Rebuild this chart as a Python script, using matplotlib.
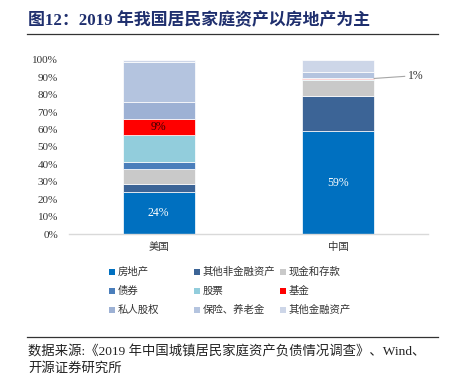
import matplotlib
matplotlib.use("Agg")
import matplotlib.pyplot as plt
from matplotlib.patches import Rectangle
from matplotlib.lines import Line2D
import numpy as np

plt.rcParams['font.family'] = ['Liberation Serif', 'Noto Sans CJK SC', 'DejaVu Sans']

categories = ['美国', '中国']
series_names = ['房地产', '其他非金融资产', '现金和存款', '债券', '股票', '基金',
                '私人股权', '保险、养老金', '其他金融资产']
colors = ['#0070C0', '#3C6496', '#C9C9C9', '#4A7EBB', '#92CDDC', '#FF0000',
          '#9DB1D4', '#B4C4DF', '#CDD6E8']
us_values = [24.0, 4.8, 8.6, 4.2, 15.3, 9.0, 10.2, 22.9, 1.0]
cn_values = [59.0, 20.5, 8.8, 0.0, 0.7, 0.8, 0.0, 3.1, 7.1]
yticks = [0, 10, 20, 30, 40, 50, 60, 70, 80, 90, 100]

W, H = 451, 375
fig = plt.figure(figsize=(W / 100, H / 100), dpi=100)
ax = fig.add_axes([69 / W, 1 - 234 / H, (428 - 69) / W, (234 - 60) / H])

values = np.array([us_values, cn_values]).T / 100.0
x = np.arange(len(categories))
bottom = np.zeros(len(categories))
for i, name in enumerate(series_names):
    ax.bar(x, values[i], 0.4, bottom=bottom, color=colors[i],
           edgecolor='white', linewidth=0.5, label=name)
    bottom += values[i]

# data labels
def seg_center(ci, si):
    vals = values[:, ci]
    return vals[:si].sum() + vals[si] / 2

ax.text(0, seg_center(0, 0), f"{us_values[0]:.0f}%", ha='center', va='center',
        color='white', fontsize=8.5)
ax.text(1, seg_center(1, 0), f"{cn_values[0]:.0f}%", ha='center', va='center',
        color='white', fontsize=8.5)
ax.text(0, seg_center(0, 5), f"{us_values[5]:.0f}%", ha='center', va='center',
        color='#3A0000', fontsize=8.5)
yc = seg_center(1, 5)
ax.plot([1.2, 1.37], [yc, yc + 0.012], color='#A6A6A6', lw=0.8, clip_on=False)
ax.text(1.39, yc + 0.012, f"{cn_values[5]:.0f}%", ha='left', va='center',
        color='#333333', fontsize=8.5)

ax.set_xlim(-0.5, 1.5)
ax.set_ylim(0, 1)
ax.set_yticks(np.array(yticks) / 100)
ax.set_yticklabels([f"{t}%" for t in yticks], fontsize=8, color='#333333')
ax.set_xticks(x)
ax.set_xticklabels(categories, fontsize=7.5, color='#333333',
                   family=['Noto Sans CJK SC'])
ax.tick_params(axis='both', length=0)
ax.tick_params(axis='y', pad=8)
ax.tick_params(axis='x', pad=6)
for s in ['left', 'right', 'top']:
    ax.spines[s].set_visible(False)
ax.spines['bottom'].set_color('#D9D9D9')
ax.spines['bottom'].set_linewidth(1)

# legend (manual grid, row-major)
col_x = [112, 197, 283]
row_y = [272, 291, 310]
for i, name in enumerate(series_names):
    r, c = divmod(i, 3)
    px, py = col_x[c], row_y[r]
    fig.add_artist(Rectangle(((px - 3) / W, 1 - (py + 3) / H), 6 / W, 6 / H,
                             transform=fig.transFigure, color=colors[i], lw=0))
    fig.text((px + 6) / W, 1 - py / H, name, ha='left', va='center',
             fontsize=7.5, color='#333333', family=['Noto Sans CJK SC'])

# title
fig.text(28 / W, 1 - 21 / H, '图12：2019 年我国居民家庭资产以房地产为主',
         ha='left', va='center', fontsize=12.2, fontweight='bold',
         color='#1F2F6E', family=['Liberation Serif', 'Noto Sans CJK SC'])
fig.add_artist(Line2D([27 / W, 438 / W], [1 - 34 / H, 1 - 34 / H],
                      transform=fig.transFigure, color='#333333', lw=0.9))

# source
fig.add_artist(Line2D([27 / W, 438 / W], [1 - 337 / H, 1 - 337 / H],
                      transform=fig.transFigure, color='#333333', lw=0.9))
fig.text(28 / W, 1 - 352 / H, '数据来源:《2019 年中国城镇居民家庭资产负债情况调查》、Wind、',
         ha='left', va='center', fontsize=9.6, color='#222222',
         family=['Liberation Serif', 'Noto Sans CJK SC'])
fig.text(28 / W, 1 - 368 / H, '开源证券研究所',
         ha='left', va='center', fontsize=9.6, color='#222222',
         family=['Noto Sans CJK SC'])

fig.savefig('out.png', dpi=100)
